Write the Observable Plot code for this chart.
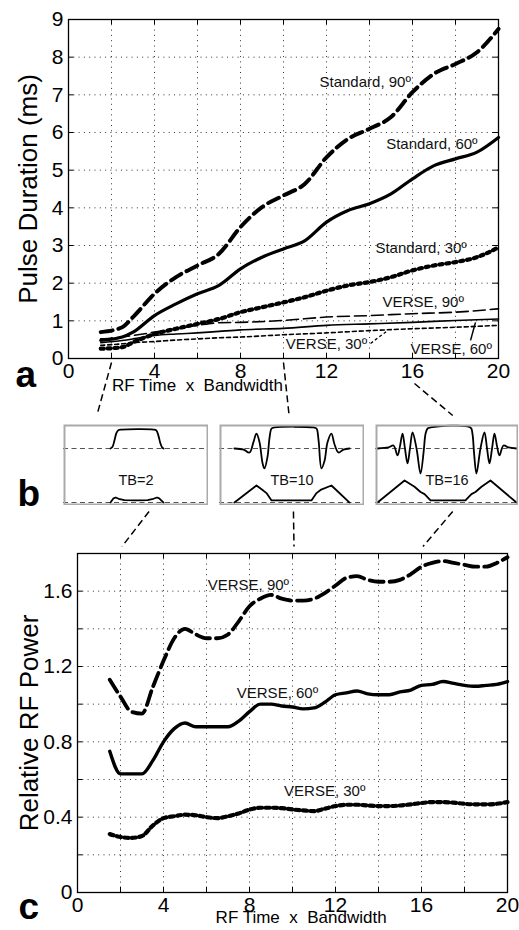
<!DOCTYPE html>
<html><head><meta charset="utf-8">
<script src="https://cdn.jsdelivr.net/npm/d3@7"></script>
<script src="https://cdn.jsdelivr.net/npm/@observablehq/plot@0.6"></script>
<style>
body{margin:0;background:#fff;}
#fig{position:relative;width:519px;height:930px;overflow:hidden;background:#fff;}
#fig > svg{position:absolute;}
#fig text{white-space:pre;}
</style></head><body><div id="fig"></div>
<script>
const FONT = '"Liberation Sans", Arial, Helvetica, sans-serif';

// ---------- Panel a: pulse duration (ms) ----------
const tbA    = [1.5,2.5,3,4,5,6,7,8,9,10,11,12,13,14,15,16,17,18,19,20];
const std90  = [0.70,0.83,1.10,1.72,2.16,2.47,2.78,3.49,4.02,4.33,4.64,5.34,5.83,6.10,6.41,7.07,7.56,7.82,8.13,8.75];
const std60  = [0.48,0.57,0.70,1.14,1.45,1.72,1.94,2.38,2.69,2.91,3.13,3.62,3.93,4.11,4.37,4.77,5.12,5.30,5.48,5.87];
const std30  = [0.26,0.30,0.43,0.65,0.79,0.92,1.05,1.23,1.36,1.49,1.63,1.80,1.94,2.03,2.16,2.34,2.47,2.56,2.69,2.95];
const tbV    = [1.5,2.5,3,4,5,6,7,8,10,12,14,16,18,20];
const verse90A = [0.52,0.57,0.61,0.70,0.79,0.88,0.95,0.96,1.01,1.10,1.14,1.19,1.23,1.32];
const verse60A = [0.42,0.48,0.52,0.61,0.65,0.68,0.72,0.76,0.80,0.88,0.92,0.96,1.01,1.05];
const verse30A = [0.35,0.39,0.42,0.45,0.49,0.52,0.55,0.57,0.63,0.68,0.74,0.79,0.83,0.88];
const xTicksA = [0,4,8,12,16,20];
const yTicksA = [0,1,2,3,4,5,6,7,8,9];
const xGridA = [2,4,6,8,10,12,14,16,18];
const yGridA = [1,2,3,4,5,6,7,8];
const labelsA = [
  {x:13.8, y:7.33, text:"Standard, 90º"},
  {x:16.9, y:5.70, text:"Standard, 60º"},
  {x:16.4, y:2.92, text:"Standard, 30º"},
  {x:16.5, y:1.49, text:"VERSE, 90º"},
  {x:12.0, y:0.39, text:"VERSE, 30º"},
  {x:17.8, y:0.26, text:"VERSE, 60º"}
];
const leader30A = [{x1:14.05, y1:0.40, x2:14.84, y2:0.74}];
const leader60A = [{x1:18.70, y1:0.48, x2:18.93, y2:0.96}];

// ---------- Panel b: waveforms (t = fraction of box width) ----------
const rf2  = [[0.324,0],[0.338,0.08],[0.352,0.4],[0.366,0.75],[0.38,0.88],[0.40,0.9],[0.62,0.9],[0.64,0.86],[0.655,0.6],[0.668,0.25],[0.68,0.05],[0.69,0]];
const gr2  = [[0.324,0],[0.345,0.2],[0.36,0.24],[0.38,0.18],[0.42,0.12],[0.5,0.1],[0.58,0.12],[0.62,0.18],[0.645,0.24],[0.66,0.2],[0.69,0]];
const rf10 = [[0.103,0],[0.166,-0.05],[0.207,-0.19],[0.234,0.3],[0.255,0.71],[0.276,0.3],[0.297,-0.7],[0.31,-0.95],[0.331,-0.4],[0.345,0.5],[0.359,0.95],[0.379,1],[0.648,1],[0.669,0.95],[0.683,0.4],[0.703,-0.95],[0.724,-0.6],[0.745,0.3],[0.772,0.71],[0.793,0.2],[0.821,-0.19],[0.855,-0.05],[0.897,0]];
const gr10 = [[0.103,0],[0.255,0.81],[0.297,0.6],[0.324,0.45],[0.359,0.1],[0.634,0.1],[0.669,0.45],[0.697,0.6],[0.772,0.81],[0.897,0]];
const rf16 = [[0.014,0],[0.091,0.05],[0.126,0.14],[0.154,-0.33],[0.171,0.1],[0.189,0.71],[0.206,0],[0.224,-0.71],[0.241,0],[0.259,0.76],[0.287,0],[0.315,-1.19],[0.336,-0.2],[0.35,0.7],[0.364,0.95],[0.385,1],[0.664,1],[0.678,0.7],[0.689,-0.2],[0.706,-1.19],[0.734,0],[0.762,0.76],[0.78,0],[0.797,-0.71],[0.815,0],[0.832,0.71],[0.85,0.1],[0.867,-0.33],[0.895,0.14],[0.93,0.05],[0.986,0]];
const gr16 = [[0.014,0],[0.203,1.05],[0.273,0.75],[0.315,0.5],[0.343,0.4],[0.385,0.1],[0.629,0.1],[0.671,0.4],[0.699,0.5],[0.741,0.75],[0.804,1.05],[0.986,0]];
const tbLabels = ["TB=2","TB=10","TB=16"];
const zoomTB = [2,10,16];

// ---------- Panel c: relative RF power ----------
const tbC = [1.5,2,2.5,3,3.5,4,4.5,5,5.5,6,6.5,7,7.5,8,8.5,9,9.5,10,10.5,11,11.5,12,12.5,13,13.5,14,14.5,15,15.5,16,16.5,17,17.5,18,18.5,19,19.5,20];
const verse90C = [1.13,1.04,0.96,0.95,1.09,1.23,1.35,1.40,1.37,1.35,1.35,1.37,1.44,1.52,1.56,1.58,1.56,1.55,1.55,1.56,1.59,1.63,1.67,1.68,1.66,1.65,1.65,1.66,1.69,1.73,1.75,1.76,1.75,1.74,1.73,1.73,1.75,1.78];
const verse60C = [0.75,0.63,0.63,0.63,0.70,0.80,0.87,0.90,0.88,0.88,0.88,0.88,0.91,0.96,1.00,1.00,0.99,0.985,0.975,0.98,1.01,1.05,1.06,1.07,1.055,1.05,1.05,1.065,1.075,1.10,1.105,1.12,1.11,1.10,1.095,1.10,1.105,1.12];
const verse30C = [0.31,0.295,0.29,0.30,0.355,0.395,0.405,0.413,0.41,0.40,0.395,0.405,0.42,0.44,0.45,0.45,0.448,0.441,0.436,0.432,0.445,0.459,0.466,0.466,0.462,0.459,0.459,0.462,0.468,0.475,0.48,0.48,0.477,0.471,0.468,0.468,0.471,0.48];
const xTicksC = [0,4,8,12,16,20];
const yTicksC = [0,0.4,0.8,1.2,1.6];
const xGridC = [2,4,6,8,10,12,14,16,18];
const yGridC = [0.2,0.4,0.6,0.8,1.0,1.2,1.4,1.6];
const labelsC = [
  {x:7.95, y:1.63, text:"VERSE, 90º"},
  {x:9.3,  y:1.06, text:"VERSE, 60º"},
  {x:11.5, y:0.54, text:"VERSE, 30º"}
];
const xTitle = "RF Time  x  Bandwidth";

const rows = (xs, ys) => xs.map((x,i) => ({x, y: ys[i]}));
const fig = document.getElementById("fig");
const dots = {stroke:"#333", strokeDasharray:"1,4.3", strokeWidth:1, strokeOpacity:1};

// ----- Panel a -----
const A = {w:519, h:405, mt:19, mb:47, ml:68, mr:21};
const plotA = Plot.plot({
  width:A.w, height:A.h, marginTop:A.mt, marginBottom:A.mb, marginLeft:A.ml, marginRight:A.mr,
  style:{fontFamily:FONT, fontSize:"21px", background:"transparent", overflow:"visible"},
  x:{domain:[0,20]}, y:{domain:[0,9]},
  marks:[
    Plot.gridX(xGridA, dots),
    Plot.gridY(yGridA, dots),
    Plot.ruleX(xGridA, {y1:0, y2:0.14, stroke:"black"}),
    Plot.ruleX(xGridA, {y1:9, y2:8.86, stroke:"black"}),
    Plot.ruleY(yGridA, {x1:0, x2:0.25, stroke:"black"}),
    Plot.ruleY(yGridA, {x1:20, x2:19.75, stroke:"black"}),
    Plot.line(rows(tbV, verse30A), {x:"x", y:"y", curve:"monotone-x", stroke:"black", strokeWidth:1.6, strokeDasharray:"4,3"}),
    Plot.line(rows(tbV, verse60A), {x:"x", y:"y", curve:"monotone-x", stroke:"black", strokeWidth:1.6}),
    Plot.line(rows(tbV, verse90A), {x:"x", y:"y", curve:"monotone-x", stroke:"black", strokeWidth:1.6, strokeDasharray:"12,5"}),
    Plot.line(rows(tbA, std30), {x:"x", y:"y", curve:"monotone-x", stroke:"black", strokeWidth:4.2, strokeDasharray:"3,4"}),
    Plot.line(rows(tbA, std60), {x:"x", y:"y", curve:"monotone-x", stroke:"black", strokeWidth:3.2}),
    Plot.line(rows(tbA, std90), {x:"x", y:"y", curve:"monotone-x", stroke:"black", strokeWidth:4, strokeDasharray:"12,6"}),
    Plot.link(leader30A, {x1:"x1", y1:"y1", x2:"x2", y2:"y2", stroke:"black", strokeWidth:1.3, strokeDasharray:"3,2.5"}),
    Plot.link(leader60A, {x1:"x1", y1:"y1", x2:"x2", y2:"y2", stroke:"black", strokeWidth:1.5}),
    Plot.text(labelsA, {x:"x", y:"y", text:"text", fontSize:15, fill:"#111"}),
    Plot.frame({stroke:"black", strokeWidth:1.3}),
    Plot.axisX(xTicksA, {tickSize:0, tickPadding:5, fontSize:21, label:null, tickFormat:d=>String(d)}),
    Plot.axisY(yTicksA, {tickSize:0, tickPadding:5, fontSize:21, label:null, tickFormat:d=>String(d)}),
    Plot.text(["Pulse Duration (ms)"], {frameAnchor:"left", textAnchor:"middle", rotate:-90, dx:-40, fontSize:26}),
    Plot.text([xTitle], {x:6, frameAnchor:"bottom", textAnchor:"middle", dy:32.5, fontSize:17}),
    Plot.text(["a"], {frameAnchor:"bottom-left", dx:-53, dy:28.5, textAnchor:"start", fontSize:37, fontWeight:"bold"})
  ]
});
plotA.style.left = "0px"; plotA.style.top = "0px";
fig.appendChild(plotA);

// ----- Panel b -----
const boxTop = 424, boxH = 81;
const boxLeft = [63, 219, 375], boxW = [145, 145, 143];
const gBase = -2.57;
const rfs = [rf2, rf10, rf16], grs = [gr2, gr10, gr16];
rfs.forEach((rf, i) => {
  const p = Plot.plot({
    width:boxW[i], height:boxH, margin:0,
    style:{fontFamily:FONT, background:"white"},
    x:{domain:[0,1], axis:null}, y:{domain:[-2.71,1.14], axis:null},
    marks:[
      Plot.ruleY([0, gBase], {stroke:"#555", strokeWidth:1.1, strokeDasharray:"5,3.5"}),
      Plot.line(rf, {x:d=>d[0], y:d=>d[1], curve:"catmull-rom", stroke:"black", strokeWidth:1.8}),
      Plot.line(grs[i], {x:d=>d[0], y:d=>d[1] + gBase, stroke:"black", strokeWidth:1.8}),
      Plot.text([tbLabels[i]], {x:0.5, y:-1.52, fontSize:14.5, fill:"#111"}),
      Plot.frame({stroke:"#aaa", strokeWidth:2, inset:1})
    ]
  });
  p.style.left = boxLeft[i] + "px"; p.style.top = boxTop + "px";
  fig.appendChild(p);
});

// ----- Panel c -----
const C = {top:530, w:519, h:400, mt:23, mb:38, ml:77, mr:12};
const plotC = Plot.plot({
  width:C.w, height:C.h, marginTop:C.mt, marginBottom:C.mb, marginLeft:C.ml, marginRight:C.mr,
  style:{fontFamily:FONT, fontSize:"21px", background:"transparent", overflow:"visible"},
  x:{domain:[0,20]}, y:{domain:[0,1.8]},
  marks:[
    Plot.gridX(xGridC, dots),
    Plot.gridY(yGridC, dots),
    Plot.ruleX(xGridC, {y1:0, y2:0.028, stroke:"black"}),
    Plot.ruleX(xGridC, {y1:1.8, y2:1.772, stroke:"black"}),
    Plot.ruleY(yGridC, {x1:0, x2:0.25, stroke:"black"}),
    Plot.ruleY(yGridC, {x1:20, x2:19.75, stroke:"black"}),
    Plot.line(rows(tbC, verse30C), {x:"x", y:"y", curve:"monotone-x", stroke:"black", strokeWidth:4.2, strokeDasharray:"4,3.5"}),
    Plot.line(rows(tbC, verse60C), {x:"x", y:"y", curve:"monotone-x", stroke:"black", strokeWidth:3.4}),
    Plot.line(rows(tbC, verse90C), {x:"x", y:"y", curve:"monotone-x", stroke:"black", strokeWidth:3.8, strokeDasharray:"14,6"}),
    Plot.text(labelsC, {x:"x", y:"y", text:"text", fontSize:15, fill:"#111"}),
    Plot.frame({stroke:"black", strokeWidth:1.3}),
    Plot.axisX(xTicksC, {tickSize:0, tickPadding:5, fontSize:21, label:null, tickFormat:d=>String(d)}),
    Plot.axisY(yTicksC, {tickSize:0, tickPadding:5, fontSize:21, label:null, tickFormat:d=>String(d)}),
    Plot.text(["Relative RF Power"], {frameAnchor:"left", textAnchor:"middle", rotate:-90, dx:-48, fontSize:26}),
    Plot.text([xTitle], {x:10.4, frameAnchor:"bottom", textAnchor:"middle", dy:30.5, fontSize:17}),
    Plot.text(["c"], {frameAnchor:"bottom-left", dx:-59, dy:26.5, textAnchor:"start", fontSize:37, fontWeight:"bold"})
  ]
});
plotC.style.left = "0px"; plotC.style.top = C.top + "px";
fig.appendChild(plotC);

// ----- Connectors overlay (endpoints from the panels' x scales) -----
const xA = v => plotA.scale("x").apply(v);
const xC = v => plotC.scale("x").apply(v);
const upStartY = [362, 362, 383];
const upEndT = [0.23, 0.48, 0.54];
const loStartT = [0.59, 0.51, 0.54];
const links = zoomTB.flatMap((tb, i) => [
  {x1: xA(tb) + (i === 2 ? 2 : 0), y1: upStartY[i], x2: boxLeft[i] + upEndT[i]*boxW[i], y2: boxTop - 9},
  {x1: boxLeft[i] + loStartT[i]*boxW[i], y1: boxTop + boxH + 6, x2: xC(tb) + 1.5, y2: C.top + C.mt - 7}
]);
const overlay = Plot.plot({
  width:519, height:930, margin:0,
  style:{fontFamily:FONT, background:"transparent", pointerEvents:"none"},
  x:{type:"identity", axis:null}, y:{type:"identity", axis:null},
  marks:[
    Plot.link(links, {x1:"x1", y1:"y1", x2:"x2", y2:"y2", stroke:"black", strokeWidth:1.5, strokeDasharray:"7,4"}),
    Plot.text(["b"], {x:17, y:493.5, textAnchor:"start", fontSize:37, fontWeight:"bold"})
  ]
});
overlay.style.left = "0px"; overlay.style.top = "0px";
fig.appendChild(overlay);
</script></body></html>
